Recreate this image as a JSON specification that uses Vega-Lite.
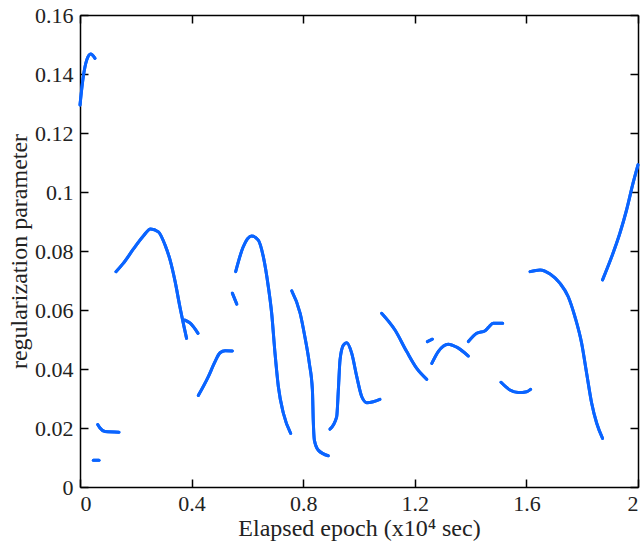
{
  "$schema": "https://vega.github.io/schema/vega-lite/v6.json",
  "width": 558,
  "height": 472,
  "autosize": "none",
  "padding": {"left": 80, "top": 15, "right": 3, "bottom": 61},
  "config": {
    "view": {"stroke": null},
    "axis": {"ticks": true, "tickColor": "#000000", "tickOpacity": 1, "tickWidth": 1.5, "domainColor": "black", "domainWidth": 1.5, "gridOpacity": 0}
  },
  "data": {
    "values": [
      {"s": "A", "x": 0.0, "y": 0.1295},
      {"s": "A", "x": 0.0118, "y": 0.1391},
      {"s": "A", "x": 0.024, "y": 0.1447},
      {"s": "A", "x": 0.0384, "y": 0.1468},
      {"s": "A", "x": 0.0538, "y": 0.1453},
      {"s": "B", "x": 0.048, "y": 0.0091},
      {"s": "B", "x": 0.068, "y": 0.0091},
      {"s": "C", "x": 0.0634, "y": 0.0212},
      {"s": "C", "x": 0.0717, "y": 0.0200},
      {"s": "C", "x": 0.0896, "y": 0.0188},
      {"s": "C", "x": 0.1398, "y": 0.0186},
      {"s": "D", "x": 0.129, "y": 0.0730},
      {"s": "D", "x": 0.155, "y": 0.0758},
      {"s": "D", "x": 0.191, "y": 0.0806},
      {"s": "D", "x": 0.227, "y": 0.0851},
      {"s": "D", "x": 0.253, "y": 0.0875},
      {"s": "D", "x": 0.281, "y": 0.0865},
      {"s": "D", "x": 0.305, "y": 0.0820},
      {"s": "D", "x": 0.323, "y": 0.0769},
      {"s": "D", "x": 0.341, "y": 0.0696},
      {"s": "D", "x": 0.358, "y": 0.0611},
      {"s": "D", "x": 0.373, "y": 0.0543},
      {"s": "D", "x": 0.382, "y": 0.0504},
      {"s": "E", "x": 0.376, "y": 0.0566},
      {"s": "E", "x": 0.394, "y": 0.0556},
      {"s": "E", "x": 0.423, "y": 0.0521},
      {"s": "F", "x": 0.424, "y": 0.0310},
      {"s": "F", "x": 0.460, "y": 0.0374},
      {"s": "F", "x": 0.484, "y": 0.0425},
      {"s": "F", "x": 0.502, "y": 0.0455},
      {"s": "F", "x": 0.520, "y": 0.0462},
      {"s": "F", "x": 0.546, "y": 0.0461},
      {"s": "G", "x": 0.546, "y": 0.0657},
      {"s": "G", "x": 0.562, "y": 0.0620},
      {"s": "H", "x": 0.558, "y": 0.0730},
      {"s": "H", "x": 0.584, "y": 0.0812},
      {"s": "H", "x": 0.615, "y": 0.0851},
      {"s": "H", "x": 0.639, "y": 0.0837},
      {"s": "H", "x": 0.657, "y": 0.0781},
      {"s": "H", "x": 0.675, "y": 0.0679},
      {"s": "H", "x": 0.687, "y": 0.0589},
      {"s": "H", "x": 0.699, "y": 0.0453},
      {"s": "H", "x": 0.711, "y": 0.0340},
      {"s": "H", "x": 0.729, "y": 0.0250},
      {"s": "H", "x": 0.755, "y": 0.0182},
      {"s": "I", "x": 0.759, "y": 0.0665},
      {"s": "I", "x": 0.789, "y": 0.0589},
      {"s": "I", "x": 0.806, "y": 0.0509},
      {"s": "I", "x": 0.822, "y": 0.0419},
      {"s": "I", "x": 0.833, "y": 0.0329},
      {"s": "I", "x": 0.836, "y": 0.0227},
      {"s": "I", "x": 0.840, "y": 0.0159},
      {"s": "I", "x": 0.854, "y": 0.0125},
      {"s": "I", "x": 0.890, "y": 0.0106},
      {"s": "J", "x": 0.896, "y": 0.0196},
      {"s": "J", "x": 0.920, "y": 0.0238},
      {"s": "J", "x": 0.926, "y": 0.0329},
      {"s": "J", "x": 0.932, "y": 0.0431},
      {"s": "J", "x": 0.944, "y": 0.0481},
      {"s": "J", "x": 0.956, "y": 0.0489},
      {"s": "J", "x": 0.974, "y": 0.0453},
      {"s": "J", "x": 0.992, "y": 0.0374},
      {"s": "J", "x": 1.010, "y": 0.0306},
      {"s": "J", "x": 1.028, "y": 0.0286},
      {"s": "J", "x": 1.051, "y": 0.0289},
      {"s": "J", "x": 1.075, "y": 0.0297},
      {"s": "K", "x": 1.081, "y": 0.0589},
      {"s": "K", "x": 1.129, "y": 0.0532},
      {"s": "K", "x": 1.171, "y": 0.0459},
      {"s": "K", "x": 1.207, "y": 0.0402},
      {"s": "K", "x": 1.243, "y": 0.0365},
      {"s": "L", "x": 1.245, "y": 0.0493},
      {"s": "L", "x": 1.263, "y": 0.0501},
      {"s": "M", "x": 1.261, "y": 0.0419},
      {"s": "M", "x": 1.284, "y": 0.0459},
      {"s": "M", "x": 1.320, "y": 0.0484},
      {"s": "M", "x": 1.350, "y": 0.0474},
      {"s": "M", "x": 1.392, "y": 0.0444},
      {"s": "N", "x": 1.392, "y": 0.0493},
      {"s": "N", "x": 1.422, "y": 0.0521},
      {"s": "N", "x": 1.452, "y": 0.0530},
      {"s": "N", "x": 1.464, "y": 0.0541},
      {"s": "N", "x": 1.481, "y": 0.0555},
      {"s": "N", "x": 1.515, "y": 0.0555},
      {"s": "O", "x": 1.509, "y": 0.0355},
      {"s": "O", "x": 1.541, "y": 0.0329},
      {"s": "O", "x": 1.571, "y": 0.0320},
      {"s": "O", "x": 1.601, "y": 0.0323},
      {"s": "O", "x": 1.615, "y": 0.0331},
      {"s": "P", "x": 1.613, "y": 0.0730},
      {"s": "P", "x": 1.649, "y": 0.0736},
      {"s": "P", "x": 1.685, "y": 0.0722},
      {"s": "P", "x": 1.720, "y": 0.0691},
      {"s": "P", "x": 1.750, "y": 0.0645},
      {"s": "P", "x": 1.774, "y": 0.0577},
      {"s": "P", "x": 1.798, "y": 0.0487},
      {"s": "P", "x": 1.816, "y": 0.0385},
      {"s": "P", "x": 1.834, "y": 0.0284},
      {"s": "P", "x": 1.852, "y": 0.0216},
      {"s": "P", "x": 1.873, "y": 0.0165},
      {"s": "Q", "x": 1.873, "y": 0.0702},
      {"s": "Q", "x": 1.906, "y": 0.0781},
      {"s": "Q", "x": 1.935, "y": 0.0860},
      {"s": "Q", "x": 1.959, "y": 0.0939},
      {"s": "Q", "x": 1.982, "y": 0.1029},
      {"s": "Q", "x": 2.0, "y": 0.1092}
    ]
  },
  "resolve": {"axis": {"x": "independent", "y": "independent"}},
  "layer": [
    {
      "mark": {"type": "line", "color": "#0a64ff", "strokeWidth": 3, "strokeCap": "round", "interpolate": "monotone"},
      "encoding": {
        "x": {"field": "x", "type": "quantitative", "scale": {"domain": [0, 2], "nice": false},
          "axis": {"orient": "bottom", "values": [0, 0.4, 0.8, 1.2, 1.6, 2], "format": "~g", "ticks": true, "tickSize": -8, "labelPadding": 14, "labelFont": "Liberation Serif", "labelFontSize": 22, "labelColor": "#222222", "title": "Elapsed epoch (x10⁴ sec)", "titleFont": "Liberation Serif", "titleFontSize": 24, "titleFontWeight": "normal", "titleColor": "#222222", "titlePadding": 2}},
        "y": {"field": "y", "type": "quantitative", "scale": {"domain": [0, 0.16], "nice": false},
          "axis": {"orient": "left", "values": [0, 0.02, 0.04, 0.06, 0.08, 0.1, 0.12, 0.14, 0.16], "format": "~g", "ticks": true, "tickSize": -8, "labelPadding": 15, "labelFont": "Liberation Serif", "labelFontSize": 22, "labelColor": "#222222", "title": "regularization parameter", "titleFont": "Liberation Serif", "titleFontSize": 24, "titleFontWeight": "normal", "titleColor": "#222222", "titlePadding": 3}},
        "detail": {"field": "s"}
      }
    },
    {
      "mark": {"type": "line", "color": "#0a64ff", "strokeWidth": 3, "strokeCap": "round", "interpolate": "monotone"},
      "encoding": {
        "x": {"field": "x", "type": "quantitative",
          "axis": {"orient": "top", "values": [0, 0.4, 0.8, 1.2, 1.6, 2], "labels": false, "ticks": true, "tickSize": -8, "title": null}},
        "y": {"field": "y", "type": "quantitative",
          "axis": {"orient": "right", "values": [0, 0.02, 0.04, 0.06, 0.08, 0.1, 0.12, 0.14, 0.16], "labels": false, "ticks": true, "tickSize": -8, "title": null}},
        "detail": {"field": "s"}
      }
    }
  ]
}
